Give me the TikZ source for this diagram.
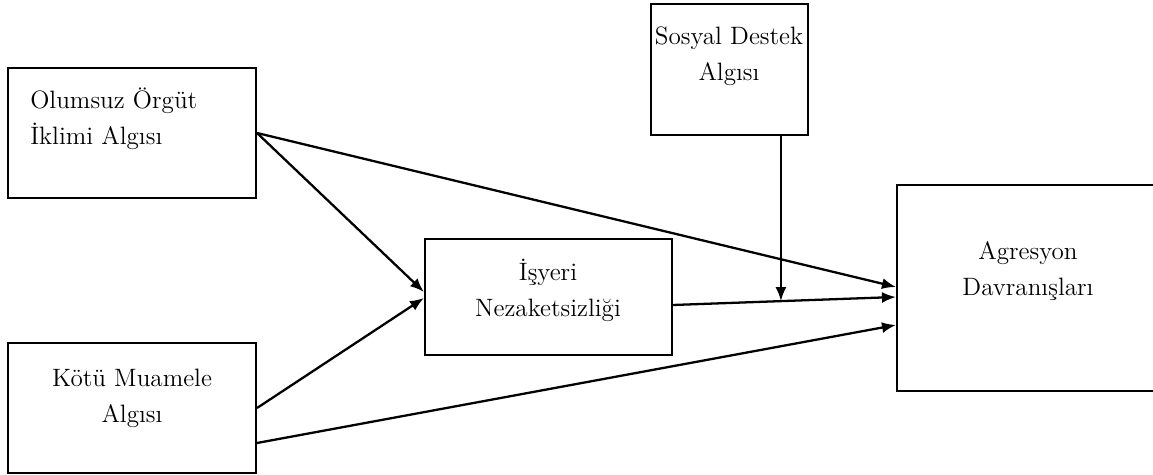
\documentclass[tikz,border=0pt]{standalone}
\usetikzlibrary{arrows.meta,calc}
\begin{document}
\begin{tikzpicture}[x=0.02cm,y=-0.02cm,
  box/.style={draw,line width=1.2pt,inner sep=0pt,rectangle},
  lbl/.style={inner sep=0pt,font=\fontsize{14.3}{20.5}\selectfont},
  conn/.style={line width=1.3pt,-{Latex[length=0.28cm,width=0.22cm]}}]
\clip (0,0) rectangle (1153,475);
\node[box,minimum width=4.96cm,minimum height=2.6cm] (b1) at (132,133) {};
\node[box,minimum width=4.96cm,minimum height=2.6cm] (b2) at (132,408) {};
\node[box,minimum width=4.94cm,minimum height=2.32cm] (b3) at (548.5,297) {};
\node[box,minimum width=3.14cm,minimum height=2.62cm] (b4) at (729.5,69.5) {};
\node[box,minimum width=5.36cm,minimum height=4.12cm] (b5) at (1031,288) {};
\node[lbl,anchor=west,align=left] (t1) at (30,119) {Olumsuz Örgüt\\İklimi Algısı};
\node[lbl,align=center] (t2) at (132,398) {Kötü Muamele\\Algısı};
\node[lbl,align=center] (t3) at (548,290) {İşyeri\\Nezaketsizliği};
\node[lbl,align=center] (t4) at (729,56) {Sosyal Destek\\Algısı};
\node[lbl,align=center] (t5) at (1028,271) {Agresyon\\Davranışları};
\draw[conn] (b1.east) -- ([yshift=0.1cm]b3.west);
\draw[conn] (b2.east) -- ([yshift=-0.02cm]b3.west);
\draw[conn] (b1.east) -- ([yshift=0.02cm]b5.west);
\coordinate (s3) at ([yshift=-0.16cm]b3.east);
\coordinate (e3) at ([yshift=-0.18cm]b5.west);
\draw[conn] (s3) -- (e3);
\draw[conn] ([yshift=-0.7cm]b2.east) -- ([yshift=-0.74cm]b5.west);
\coordinate (m) at ($(s3)!0.484!(e3)$);
\draw[conn] (b4.south -| m) -- (m);
\end{tikzpicture}
\end{document}
